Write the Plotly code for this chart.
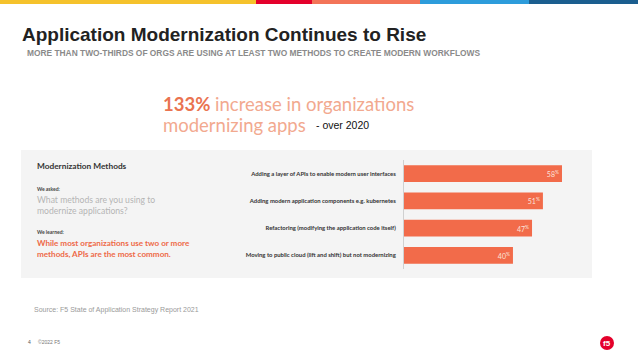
import plotly.graph_objects as go

W, H = 638, 359

categories = [
    "Adding a layer of APIs to enable modern user interfaces",
    "Adding modern application components e.g. kubernetes",
    "Refactoring (modifying the application code itself)",
    "Moving to public cloud (lift and shift) but not modernizing",
]
values = [58, 51, 47, 40]
value_labels = ["58<sup>%</sup>", "51<sup>%</sup>", "47<sup>%</sup>", "40<sup>%</sup>"]

def px(x):
    return x / W

def py(y):
    return 1 - y / H

BAR = "#F26B4A"
GEO = "Lato"

fig = go.Figure()
fig.add_trace(go.Bar(
    x=values, y=categories, orientation="h",
    marker=dict(color=BAR, line=dict(width=0)),
    width=0.62,
    text=value_labels, textposition="inside", insidetextanchor="end",
    textfont=dict(color="#FBE3DA", size=7, family=GEO),
    hoverinfo="skip",
))

shapes = []
strip = [(0, 256, "#F5C22B"), (256, 312, "#E4002B"), (312, 420, "#F37458"),
         (420, 529, "#2D9CDB"), (529, 638, "#1B5E8F")]
for x0, x1, c in strip:
    shapes.append(dict(type="rect", xref="paper", yref="paper", x0=px(x0), x1=px(x1),
                       y0=py(4), y1=py(0), fillcolor=c, line=dict(width=0), layer="below"))
shapes.append(dict(type="rect", xref="paper", yref="paper", x0=px(21), x1=px(592),
                   y0=py(278), y1=py(150), fillcolor="#F4F4F4", line=dict(width=0), layer="below"))
shapes.append(dict(type="circle", xref="paper", yref="paper", x0=px(600), x1=px(614),
                   y0=py(350), y1=py(336), fillcolor="#E4002B", line=dict(width=0)))

ann = []
def A(x, y, text, size, color, family="Liberation Sans", xanchor="left", yanchor="middle"):
    ann.append(dict(xref="paper", yref="paper", x=px(x), y=py(y), text=text, showarrow=False,
                    xanchor=xanchor, yanchor=yanchor, font=dict(size=size, color=color, family=family)))

A(20, 35, "<b>Application Modernization Continues to Rise</b>", 19, "#222222")
A(25, 53, "<b>MORE THAN TWO-THIRDS OF ORGS ARE USING AT LEAST TWO METHODS TO CREATE MODERN WORKFLOWS</b>", 8.4, "#8A8A8A")
A(161, 104, "<b><span style='color:#EA7350'>133%</span></b> increase in organizations", 18.5, "#F2A98F", GEO)
A(161, 125, "modernizing apps", 18.5, "#F2A98F", GEO)
A(314, 125, "- over 2020", 10.5, "#111111")

A(35, 166, "<b>Modernization Methods</b>", 8.3, "#333333", GEO)
A(35, 189, "<b>We asked:</b>", 5, "#444444", GEO)
A(35, 200, "What methods are you using to", 8.6, "#B5B5B5", GEO)
A(35, 211, "modernize applications?", 8.6, "#B5B5B5", GEO)
A(35, 232, "<b>We learned:</b>", 5, "#444444", GEO)
A(35, 243, "<b>While most organizations use two or more</b>", 8.1, "#EE6A48", GEO)
A(35, 254, "<b>methods, APIs are the most common.</b>", 8.1, "#EE6A48", GEO)

A(32, 310, "Source: F5 State of Application Strategy Report 2021", 7, "#9A9A9A")
A(26, 342, "4", 5, "#555555")
A(36, 342, "©2022 F5", 5, "#777777")
A(607, 343, "<b>f5</b>", 8, "#FFFFFF", xanchor="center")

fig.update_layout(
    width=W, height=H, margin=dict(l=0, r=0, t=0, b=0),
    paper_bgcolor="white", plot_bgcolor="rgba(0,0,0,0)",
    showlegend=False, shapes=shapes, annotations=ann,
    xaxis=dict(domain=[px(404), px(404 + 60 * 2.724)], range=[0, 60], visible=False, fixedrange=True),
    yaxis=dict(domain=[py(269), py(160)], autorange="reversed", showline=True, linecolor="#D0D0D0",
               linewidth=1, ticks="", showgrid=False, zeroline=False, ticklabelstandoff=6,
               tickfont=dict(size=5.9, color="#333333", family=GEO, weight="bold"), fixedrange=True),
)

fig.write_html("out.html", config={"displayModeBar": False},
               post_script="document.body.style.margin='0';document.body.style.overflow='hidden';")
